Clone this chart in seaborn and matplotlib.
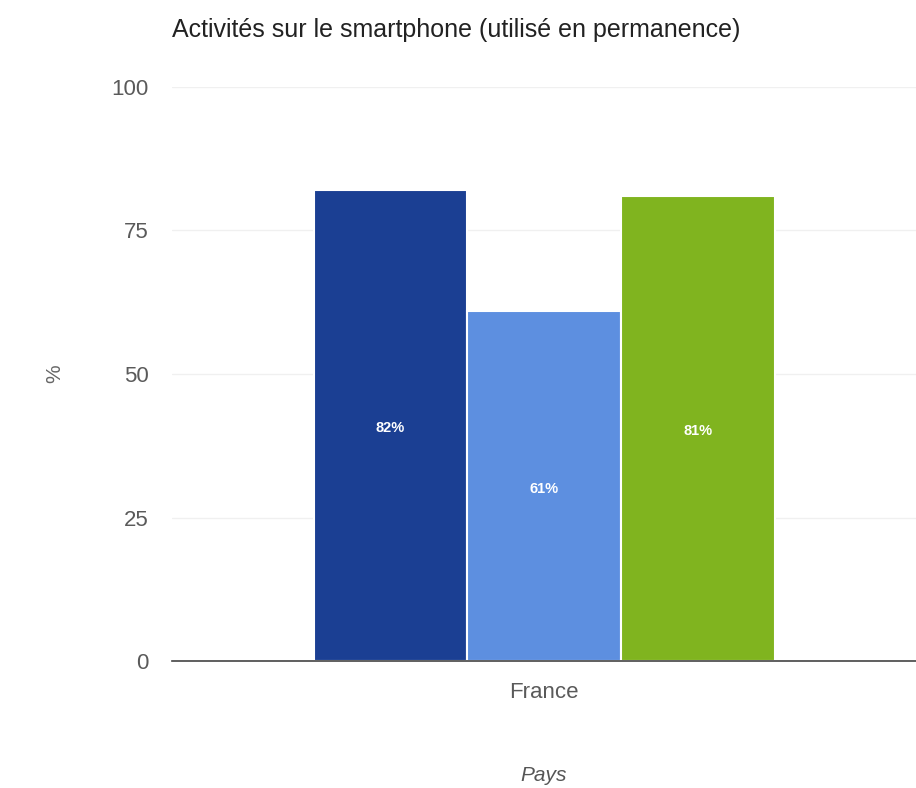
import numpy as np
import matplotlib
matplotlib.use("Agg")
import matplotlib.pyplot as plt
import seaborn as sns
import pandas as pd

# data
pays = ["France", "France", "France"]
series = ["Série 1", "Série 2", "Série 3"]
valeurs = [82, 61, 81]
couleurs = ["#1b3f93", "#5d8fe0", "#80b41f"]

df = pd.DataFrame({"Pays": pays, "Série": series, "Valeur": valeurs})

sns.set_style("white")
plt.rcParams['font.family'] = ['Liberation Sans', 'DejaVu Sans']

fig = plt.figure(figsize=(9.16, 7.88), dpi=100)
ax = fig.add_axes([0.188, 0.161, 0.812, 0.729])

sns.barplot(data=df, x="Pays", y="Valeur", hue="Série", palette=couleurs,
            saturation=1, width=0.62, gap=0.0, edgecolor="white",
            linewidth=1.5, legend=False, ax=ax)

for cont in ax.containers:
    for bar, v in zip(cont, cont.datavalues):
        ax.text(bar.get_x() + bar.get_width() / 2, v / 2 - 0.5, f"{v:.0f}%",
                ha="center", va="center", color="white", fontsize=10.5,
                fontweight="bold")

ax.set_ylim(0, 100)
ax.set_xlim(-0.5, 0.5)
ax.set_yticks([0, 25, 50, 75, 100])
ax.yaxis.grid(True, color="#f0f0f0", linewidth=1)
ax.set_axisbelow(True)
for s in ["top", "right", "left"]:
    ax.spines[s].set_visible(False)
ax.spines["bottom"].set_color("#444444")
ax.spines["bottom"].set_linewidth(1.2)
ax.tick_params(axis="both", length=0, labelsize=16, labelcolor="#5a5a5a")
ax.tick_params(axis="y", pad=17)
ax.tick_params(axis="x", pad=15)

ax.set_ylabel("%", fontsize=15, color="#666666")
ax.yaxis.set_label_coords(-0.188 + 32 / 744, 0.5)
ax.set_xlabel("Pays", fontsize=15, color="#555555", style="italic")
ax.xaxis.set_label_coords(0.5, -(775 - 661) / 574, transform=ax.transAxes)
ax.xaxis.label.set_va("center")

fig.text(0.188, 0.962, "Activités sur le smartphone (utilisé en permanence)",
         fontsize=18, color="#222222", ha="left", va="center")

fig.savefig("out.png", dpi=100)
